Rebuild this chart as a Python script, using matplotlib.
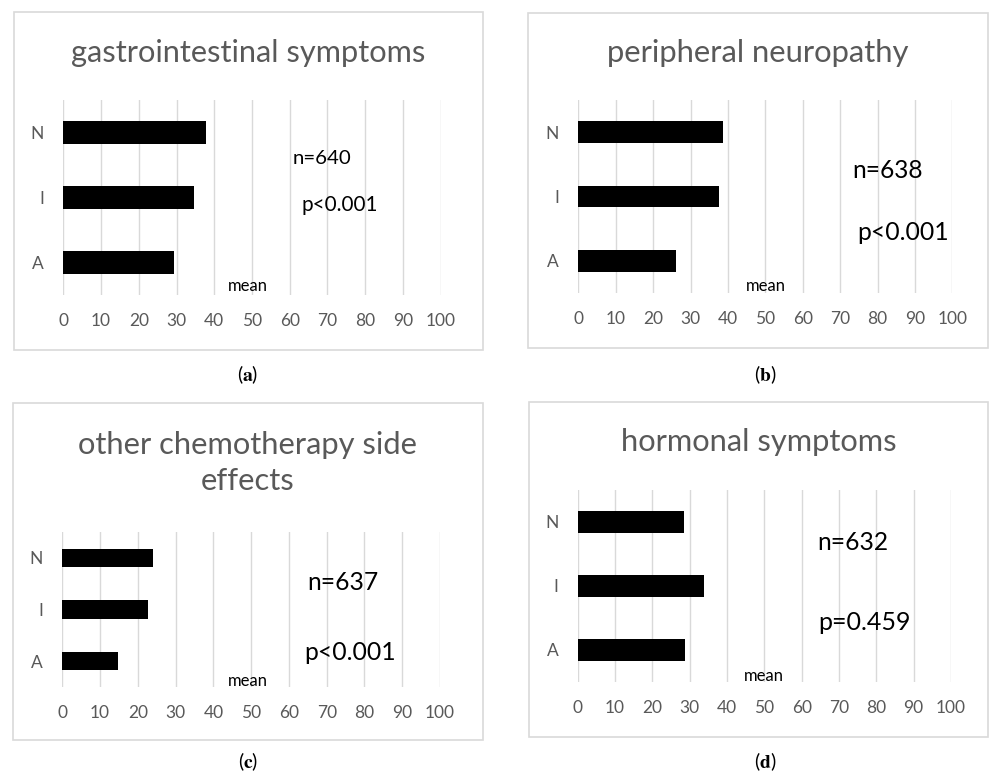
import matplotlib
matplotlib.use("Agg")
import matplotlib.pyplot as plt
from matplotlib.patches import Rectangle

plt.rcParams['font.family'] = ['Lato', 'DejaVu Sans']
plt.rcParams['mathtext.fontset'] = 'stix'

# ---- data ----
categories = ['N', 'I', 'A']
gastro = [37.8, 34.5, 29.2]
neuro = [38.6, 37.7, 26.2]
other_chemo = [23.9, 22.8, 14.8]
hormonal = [28.5, 33.8, 28.8]
titles = ['gastrointestinal symptoms', 'peripheral neuropathy',
          'other chemotherapy side\neffects', 'hormonal symptoms']
n_labels = ['n=640', 'n=638', 'n=637', 'n=632']
p_labels = ['p<0.001', 'p<0.001', 'p<0.001', 'p=0.459']
panel_letters = ['a', 'b', 'c', 'd']
x_ticks = [0, 10, 20, 30, 40, 50, 60, 70, 80, 90, 100]
series = [gastro, neuro, other_chemo, hormonal]

W, H = 991, 774
fig = plt.figure(figsize=(W / 100, H / 100), dpi=100)


def fx(x):
    return x / W


def fy(y):
    return 1 - y / H


GRAY = '#595959'
GRID = '#d9d9d9'

layouts = [
    dict(box=(14, 12, 483, 350), plot=(63.3, 100, 440.7, 295), title_y=53,
         n=(322, 158, 59), p=(340, 205, 77), mean=(248, 286), cap=(248, 375),
         title_w=353, bar_h=0.34),
    dict(box=(528, 13, 988, 348), plot=(578.3, 100, 952.3, 293), title_y=53,
         n=(888, 170, 71), p=(903, 232, 92), mean=(766, 286), cap=(765, 375),
         title_w=302, bar_h=0.34),
    dict(box=(13, 403, 483, 740), plot=(62.3, 532, 440, 687), title_y=463,
         n=(343, 583, 71), p=(350, 652, 92), mean=(248, 681), cap=(248, 762),
         title_w=339, bar_h=0.35),
    dict(box=(529, 402, 988, 737), plot=(577.7, 490, 951, 682), title_y=442,
         n=(853, 542, 71), p=(865, 622, 93), mean=(764, 676), cap=(765, 762),
         title_w=276, bar_h=0.34),
]

fit_list = []
axes = []
for i, L in enumerate(layouts):
    bx0, by0, bx1, by1 = L['box']
    fig.patches.append(Rectangle((fx(bx0), fy(by1)), fx(bx1 - bx0), (by1 - by0) / H,
                                 transform=fig.transFigure, fill=False,
                                 edgecolor=GRID, linewidth=1.2, zorder=0))
    px0, py0, px1, py1 = L['plot']
    ax = fig.add_axes([fx(px0), fy(py1), (px1 - px0) / W, (py1 - py0) / H])
    axes.append(ax)
    ypos = list(range(len(categories)))
    ax.barh(ypos, series[i], height=L['bar_h'], color='black', zorder=3)
    ax.set_xlim(0, 100)
    ax.set_ylim(len(categories) - 0.5, -0.5)
    ax.set_yticks(ypos)
    ax.set_yticklabels(categories)
    ax.set_xticks(x_ticks)
    ax.set_xticklabels([str(t) for t in x_ticks])
    ax.grid(axis='x', color=GRID, linewidth=1.0, zorder=0)
    ax.set_axisbelow(True)
    for s in ax.spines.values():
        s.set_visible(False)
    ax.tick_params(axis='both', length=0, colors=GRAY, labelsize=12.5)
    ax.tick_params(axis='x', pad=13)
    ax.tick_params(axis='y', pad=14)
    ax.patch.set_alpha(0)

    cx = (bx0 + bx1) / 2
    t = fig.text(fx(cx), fy(L['title_y']), titles[i], ha='center', va='center',
                 color=GRAY, fontsize=18, linespacing=1.35)
    fit_list.append((t, L['title_w'], titles[i].split('\n')[0]))
    nx, ny, nw = L['n']
    tn = fig.text(fx(nx), fy(ny), n_labels[i], ha='center', va='center',
                  color='black', fontsize=14)
    fit_list.append((tn, nw, None))
    ppx, ppy, pw = L['p']
    tp = fig.text(fx(ppx), fy(ppy), p_labels[i], ha='center', va='center',
                  color='black', fontsize=14)
    fit_list.append((tp, pw, None))
    mx, my = L['mean']
    tm = fig.text(fx(mx), fy(my), 'mean', ha='center', va='center', color='black',
                  fontsize=10)
    fit_list.append((tm, 40, None))
    capx, capy = L['cap']
    fig.text(fx(capx), fy(capy), '(' + r'$\mathbf{' + panel_letters[i] + '}$' + ')',
             ha='center', va='center', color='black', fontsize=14)

fig.canvas.draw()
r = fig.canvas.get_renderer()
for t, w, first_line in fit_list:
    if first_line is not None and '\n' in t.get_text():
        full = t.get_text()
        t.set_text(first_line)
        bb = t.get_window_extent(r)
        t.set_fontsize(t.get_fontsize() * w / bb.width)
        t.set_text(full)
    else:
        bb = t.get_window_extent(r)
        t.set_fontsize(t.get_fontsize() * w / bb.width)

# fit tick label size so that "100" is about 30 px wide
lab = axes[0].get_xticklabels()[-1]
size = lab.get_fontsize() * 30 / lab.get_window_extent(r).width
for ax in axes:
    ax.tick_params(axis='both', labelsize=size)

fig.savefig('out.png', dpi=100)
